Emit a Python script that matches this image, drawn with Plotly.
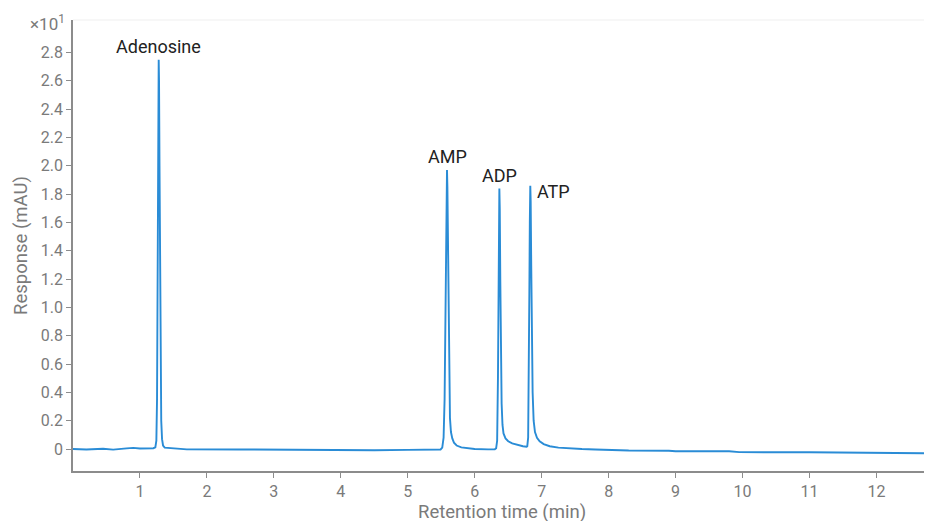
import plotly.graph_objects as go

# chromatogram, split into regions (time in min, response in mAU x10)
base_start_t = [0.0, 0.2, 0.45, 0.6, 0.8, 0.9, 1.0, 1.1, 1.2, 1.23]
base_start_y = [0.0, -0.003, 0.002, -0.004, 0.005, 0.008, 0.004, 0.006, 0.006, 0.012]

adenosine_t = [1.245, 1.255, 1.262, 1.270, 1.276, 1.280, 1.285, 1.292, 1.300, 1.308,
               1.318, 1.330, 1.345, 1.37, 1.45]
adenosine_y = [0.06, 0.35, 1.0, 2.1, 2.62, 2.75, 2.6, 2.0, 1.2, 0.55,
               0.2, 0.07, 0.025, 0.01, 0.006]

base_mid_t = [1.6, 1.7, 2.5, 3.0, 4.0, 4.5, 5.0, 5.4, 5.49]
base_mid_y = [0.003, -0.002, -0.003, -0.005, -0.006, -0.008, -0.006, -0.005, -0.003]

amp_t = [5.515, 5.535, 5.55, 5.562, 5.572, 5.580, 5.586, 5.592, 5.600, 5.610,
         5.620, 5.630, 5.645, 5.665, 5.69, 5.73, 5.80, 5.90, 6.00, 6.20, 6.30]
amp_y = [0.01, 0.08, 0.35, 0.9, 1.5, 1.9, 1.97, 1.85, 1.4, 0.85,
         0.45, 0.22, 0.12, 0.075, 0.045, 0.025, 0.012, 0.005, 0.0, -0.002, -0.002]

adp_t = [6.32, 6.335, 6.347, 6.355, 6.362, 6.368, 6.374, 6.382, 6.392, 6.402,
         6.415, 6.43, 6.46, 6.50, 6.56, 6.64, 6.72, 6.775]
adp_y = [0.005, 0.06, 0.5, 1.1, 1.6, 1.84, 1.7, 1.2, 0.65, 0.32,
         0.17, 0.11, 0.075, 0.055, 0.04, 0.028, 0.02, 0.016]

atp_t = [6.785, 6.798, 6.808, 6.816, 6.823, 6.830, 6.836, 6.844, 6.854, 6.865,
         6.88, 6.90, 6.93, 6.97, 7.03, 7.12, 7.25, 7.40]
atp_y = [0.02, 0.08, 0.5, 1.1, 1.6, 1.86, 1.75, 1.3, 0.75, 0.4,
         0.2, 0.12, 0.08, 0.055, 0.035, 0.02, 0.01, 0.004]

base_end_t = [7.6, 7.8, 8.0, 8.3, 8.9, 9.0, 9.8, 9.95, 11.0, 11.9, 12.0, 12.8]
base_end_y = [0.0, -0.003, -0.006, -0.01, -0.012, -0.015, -0.016, -0.022, -0.023, -0.024, -0.028, -0.03]

peak_names = ["Adenosine", "AMP", "ADP", "ATP"]
peak_times = [1.280, 5.586, 6.368, 6.830]
peak_heights = [2.75, 1.97, 1.84, 1.86]

y_ticks = [0, 0.2, 0.4, 0.6, 0.8, 1.0, 1.2, 1.4, 1.6, 1.8, 2.0, 2.2, 2.4, 2.6, 2.8]
y_labels = ["0", "0.2", "0.4", "0.6", "0.8", "1.0", "1.2", "1.4", "1.6", "1.8",
            "2.0", "2.2", "2.4", "2.6", "2.8"]
x_ticks = list(range(1, 13))

t = base_start_t + adenosine_t + base_mid_t + amp_t + adp_t + atp_t + base_end_t
y = base_start_y + adenosine_y + base_mid_y + amp_y + adp_y + atp_y + base_end_y

grey = "#7a7a7a"
axis_col = "#8c8c8c"

fig = go.Figure(go.Scatter(x=t, y=y, mode="lines",
                           line=dict(color="#2a8cd6", width=1.9),
                           showlegend=False))

for name, pt, ph in zip(peak_names, peak_times, peak_heights):
    if name == "ATP":
        fig.add_annotation(x=pt, y=ph, text=name, showarrow=False,
                           xanchor="left", yanchor="middle", xshift=5, yshift=-6,
                           font=dict(size=18, color="#222222"))
    else:
        fig.add_annotation(x=pt, y=ph, text=name, showarrow=False,
                           xanchor="center", yanchor="bottom", yshift=1,
                           font=dict(size=18, color="#222222"))

fig.add_annotation(xref="paper", yref="paper", x=0, y=1, text="×10<sup>1</sup>",
                   showarrow=False, xanchor="right", yanchor="middle", xshift=-6, yshift=-3,
                   font=dict(size=17, color=grey))

# x axis title placed by hand so it sits tight under the tick labels
fig.add_annotation(xref="paper", yref="paper", x=0.5, y=0, text="Retention time (min)",
                   showarrow=False, xanchor="center", yanchor="top", yshift=-28,
                   font=dict(size=18.5, color=grey))

fig.add_shape(type="line", xref="paper", yref="paper", x0=0, x1=1, y0=1, y1=1,
              line=dict(color="#efefef", width=1))

# page body has an 8px margin, so the figure is 8px smaller than the window
fig.update_layout(
    width=924, height=513,
    margin=dict(l=65, r=2, t=12, b=50),
    plot_bgcolor="white", paper_bgcolor="white",
    font=dict(family="Roboto", size=16, color=grey),
    xaxis=dict(range=[0, 12.8], tickvals=x_ticks, showgrid=False, zeroline=False,
               automargin=False,
               showline=True, linecolor=axis_col, linewidth=1.5,
               ticks="outside", ticklen=5, tickcolor=axis_col,
               tickfont=dict(size=16, color=grey)),
    yaxis=dict(range=[-0.155, 3.03], tickvals=y_ticks, ticktext=y_labels,
               showgrid=False, zeroline=False,
               showline=True, linecolor=axis_col, linewidth=1.5,
               ticks="outside", ticklen=5, tickcolor=axis_col,
               tickfont=dict(size=16, color=grey),
               title=dict(text="Response (mAU)", standoff=8,
                          font=dict(size=18.5, color=grey))),
)

fig.write_html("out.html")
